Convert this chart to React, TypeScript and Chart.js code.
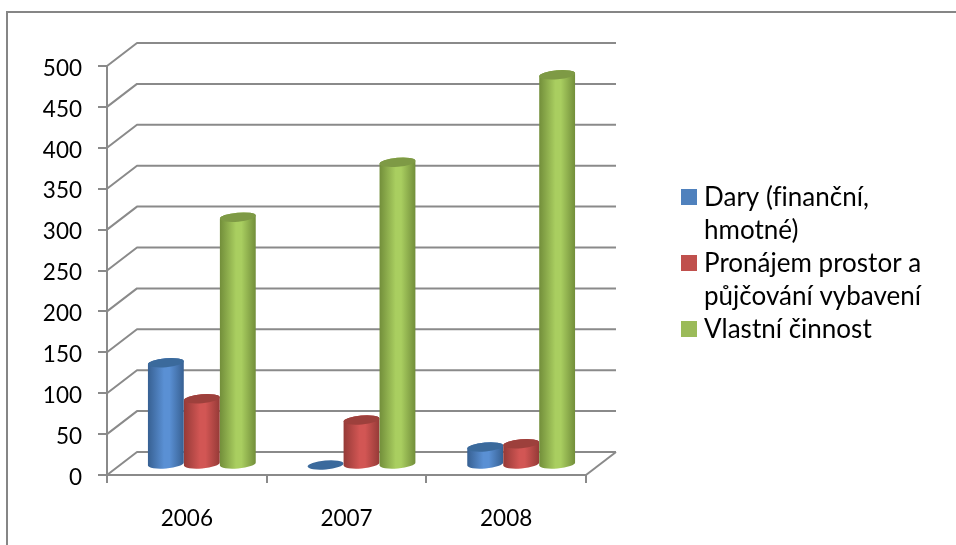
import React, { useEffect, useRef } from "react";
import { Chart, registerables } from "chart.js";

Chart.register(...registerables);

const categories = ["2006", "2007", "2008"];
const dary = [125, 0, 22];
const pronajem = [81, 55, 26];
const vlastni = [303, 370, 477];
const seriesNames = ["Dary (finanční, hmotné)", "Pronájem prostor a půjčování vybavení", "Vlastní činnost"];
const legendLines = [["Dary (finanční,", "hmotné)"], ["Pronájem prostor a", "půjčování vybavení"], ["Vlastní činnost"]];
const legendColors = ["#4F81BD", "#C0504D", "#9BBB59"];
const cylinderShades = [
  { edge: "#376092", mid: "#5A90D4", cap: "#3B6A9C" },
  { edge: "#953A37", mid: "#D25654", cap: "#9D403C" },
  { edge: "#728E3A", mid: "#A9CE60", cap: "#7E9A45" },
];

const FONT = "Lato";
const FONT_SIZE = 22.5;
const LEGEND_FONT_SIZE = 26;
const LINE = "#8A8A8A";
const DEPTH_X = 30;
const DEPTH_Y = 23;
const BAR_SHIFT_X = 15;
const BAR_SHIFT_Y = 10;
const CAP_B = 4.5;
const CAP_ROT = (-5 * Math.PI) / 180;

const wallPlugin = {
  id: "wall",
  beforeDatasetsDraw(chart: any) {
    const { ctx, chartArea, scales } = chart;
    ctx.save();
    ctx.strokeStyle = LINE;
    ctx.lineWidth = 2;
    ctx.lineJoin = "round";
    for (const tick of scales.y.ticks) {
      const y = scales.y.getPixelForValue(tick.value);
      ctx.beginPath();
      ctx.moveTo(chartArea.left, y);
      ctx.lineTo(chartArea.left + DEPTH_X, y - DEPTH_Y);
      ctx.lineTo(chartArea.right + DEPTH_X, y - DEPTH_Y);
      ctx.stroke();
    }
    const y0 = scales.y.getPixelForValue(0);
    ctx.beginPath();
    ctx.moveTo(chartArea.right, y0);
    ctx.lineTo(chartArea.right + DEPTH_X, y0 - DEPTH_Y);
    ctx.stroke();
    ctx.restore();
  },
};

const cylinderPlugin = {
  id: "cylinders",
  afterDatasetsDraw(chart: any) {
    const { ctx } = chart;
    ctx.save();
    chart.data.datasets.forEach((_: any, di: number) => {
      const shade = cylinderShades[di];
      chart.getDatasetMeta(di).data.forEach((bar: any) => {
        const cx = bar.x + BAR_SHIFT_X;
        const a = bar.width / 2;
        const topY = bar.y - BAR_SHIFT_Y;
        const baseY = bar.base - BAR_SHIFT_Y;
        if (baseY - topY > 0.5) {
          const g = ctx.createLinearGradient(cx - a, 0, cx + a, 0);
          g.addColorStop(0, shade.edge);
          g.addColorStop(0.45, shade.mid);
          g.addColorStop(0.6, shade.mid);
          g.addColorStop(1, shade.edge);
          ctx.fillStyle = g;
          ctx.beginPath();
          ctx.ellipse(cx, baseY, a, CAP_B, CAP_ROT, 0, Math.PI, false);
          ctx.ellipse(cx, topY, a, CAP_B, CAP_ROT, Math.PI, 2 * Math.PI, false);
          ctx.closePath();
          ctx.fill();
        }
        ctx.fillStyle = shade.cap;
        ctx.beginPath();
        ctx.ellipse(cx, topY, a, CAP_B, CAP_ROT, 0, 2 * Math.PI);
        ctx.fill();
      });
    });
    ctx.restore();
  },
};

const legendPlugin = {
  id: "wrappedLegend",
  afterDraw(chart: any) {
    const { ctx } = chart;
    ctx.save();
    ctx.font = `${LEGEND_FONT_SIZE}px ${FONT}`;
    (ctx as any).letterSpacing = "0.01px";
    ctx.textBaseline = "middle";
    ctx.textAlign = "left";
    let y = 197;
    legendLines.forEach((lines, i) => {
      ctx.fillStyle = legendColors[i];
      ctx.fillRect(681, y - 8, 16, 16);
      ctx.fillStyle = "#000";
      lines.forEach((line) => {
        ctx.fillText(line, 704, y + 1);
        y += 33;
      });
    });
    ctx.restore();
  },
};

export default function App() {
  const ref = useRef<HTMLCanvasElement>(null);
  useEffect(() => {
    const chart = new Chart(ref.current as HTMLCanvasElement, {
      type: "bar",
      data: {
        labels: categories,
        datasets: [dary, pronajem, vlastni].map((data, i) => ({
          label: seriesNames[i],
          data,
          backgroundColor: "rgba(0,0,0,0)",
          categoryPercentage: 0.676,
          barPercentage: 1,
        })),
      },
      options: {
        responsive: false,
        animation: false,
        layout: { autoPadding: false, padding: { top: 66, right: 370, bottom: 0, left: 0 } },
        plugins: { legend: { display: false }, tooltip: { enabled: false } },
        scales: {
          x: {
            afterFit: (s: any) => { s.height = 70; },
            border: { color: LINE, width: 2 },
            grid: { drawOnChartArea: false, color: LINE, lineWidth: 2, tickLength: 8 },
            ticks: { color: "#000", padding: 22, maxRotation: 0, autoSkip: false, font: { family: FONT, size: FONT_SIZE } },
          },
          y: {
            min: 0,
            max: 500,
            afterFit: (s: any) => { s.width = 107; },
            border: { color: LINE, width: 2 },
            grid: { drawOnChartArea: false, color: LINE, lineWidth: 2, tickLength: 9 },
            ticks: {
              stepSize: 50,
              color: "#000",
              padding: 16,
              callback: (v: any) => ["", String(v)],
              font: { family: FONT, size: FONT_SIZE, lineHeight: "5px" },
            },
          },
        },
      },
      plugins: [wallPlugin, cylinderPlugin, legendPlugin],
    } as any);
    return () => chart.destroy();
  }, []);
  return (
    <div style={{ position: "fixed", left: 0, top: 0, width: 956, height: 545, background: "#fff", overflow: "hidden" }}>
      <div style={{ position: "absolute", left: 6, top: 11, width: 960, height: 560, borderLeft: "2px solid #868686", borderTop: "2px solid #868686" }} />
      <canvas ref={ref} width={956} height={545} style={{ position: "absolute", left: 0, top: 0, display: "block" }} />
    </div>
  );
}
